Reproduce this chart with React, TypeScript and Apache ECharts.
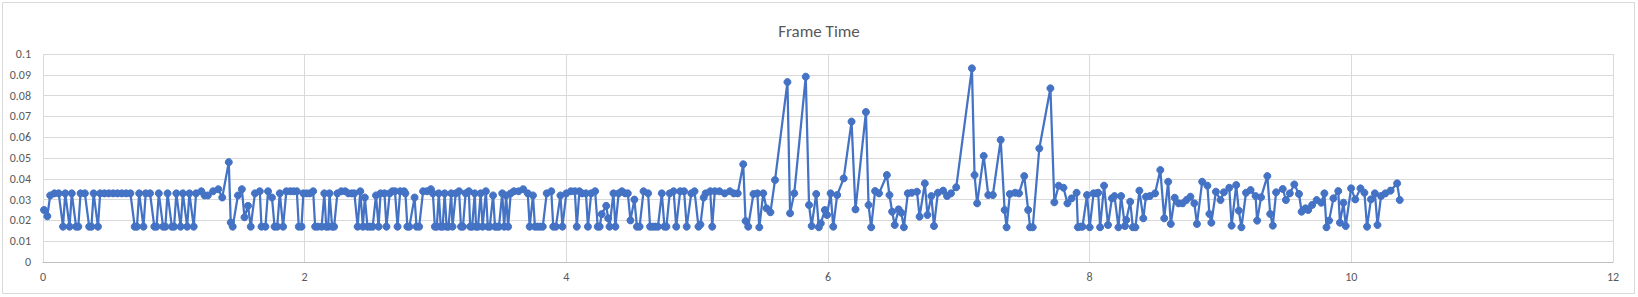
import React, { useEffect, useRef } from "react";
import * as echarts from "echarts";

// [elapsed time (s), frame time (s)], in segments
const segA: number[][] = [
  [0.008, 0.025], [0.033, 0.022], [0.055, 0.032], [0.087, 0.033], [0.12, 0.033], [0.153, 0.017],
  [0.17, 0.033], [0.203, 0.017], [0.22, 0.033], [0.253, 0.017], [0.27, 0.017], [0.287, 0.033],
  [0.32, 0.033], [0.353, 0.017], [0.37, 0.017], [0.387, 0.033], [0.42, 0.017], [0.437, 0.033],
  [0.47, 0.033], [0.503, 0.033], [0.536, 0.033], [0.569, 0.033], [0.602, 0.033], [0.635, 0.033],
  [0.668, 0.033], [0.701, 0.017], [0.718, 0.017], [0.735, 0.033], [0.768, 0.017], [0.785, 0.033],
  [0.818, 0.033], [0.851, 0.017], [0.868, 0.017],
];
const segB: number[][] = [
  [0.885, 0.033], [0.918, 0.017], [0.935, 0.017], [0.952, 0.033], [0.985, 0.017], [1.002, 0.017],
  [1.019, 0.033], [1.052, 0.017], [1.069, 0.033], [1.102, 0.017], [1.119, 0.033], [1.152, 0.017],
  [1.17, 0.033], [1.21, 0.034], [1.235, 0.032], [1.26, 0.032], [1.30, 0.034], [1.34, 0.035],
  [1.37, 0.031], [1.42, 0.048], [1.435, 0.019], [1.45, 0.017], [1.49, 0.032], [1.52, 0.035],
  [1.54, 0.0215], [1.567, 0.027], [1.588, 0.017], [1.62, 0.033], [1.657, 0.034], [1.67, 0.017],
  [1.70, 0.017], [1.72, 0.034], [1.75, 0.031], [1.77, 0.017],
];
const segC: number[][] = [
  [1.79, 0.017], [1.81, 0.033], [1.835, 0.017], [1.86, 0.034], [1.89, 0.034], [1.915, 0.034],
  [1.94, 0.034], [1.955, 0.017], [1.976, 0.017], [1.99, 0.033], [2.015, 0.033], [2.04, 0.033],
  [2.065, 0.034], [2.08, 0.017], [2.10, 0.017], [2.13, 0.017], [2.15, 0.033], [2.165, 0.017],
  [2.18, 0.017], [2.19, 0.033], [2.21, 0.017], [2.225, 0.017], [2.25, 0.033], [2.28, 0.034],
  [2.31, 0.034], [2.335, 0.033], [2.36, 0.033], [2.38, 0.033], [2.405, 0.017], [2.425, 0.034],
  [2.445, 0.017], [2.46, 0.031], [2.48, 0.017], [2.50, 0.017], [2.52, 0.017], [2.545, 0.032],
  [2.565, 0.017], [2.58, 0.033], [2.61, 0.033], [2.625, 0.017],
];
const segD: number[][] = [
  [2.65, 0.033], [2.67, 0.034], [2.69, 0.034], [2.71, 0.017], [2.73, 0.034], [2.76, 0.034],
  [2.77, 0.033], [2.785, 0.017], [2.80, 0.017], [2.84, 0.031], [2.855, 0.017], [2.875, 0.017],
  [2.905, 0.034], [2.935, 0.034], [2.965, 0.035], [2.98, 0.033], [2.995, 0.017], [3.01, 0.017],
  [3.025, 0.033], [3.04, 0.017], [3.055, 0.017], [3.07, 0.033], [3.085, 0.017], [3.10, 0.017],
  [3.12, 0.033], [3.13, 0.017], [3.155, 0.033], [3.18, 0.034], [3.195, 0.017], [3.21, 0.017],
  [3.23, 0.033], [3.255, 0.034], [3.265, 0.017], [3.28, 0.017], [3.30, 0.033], [3.31, 0.017],
  [3.325, 0.017], [3.345, 0.033], [3.36, 0.017], [3.385, 0.034], [3.40, 0.017], [3.415, 0.017],
  [3.44, 0.032], [3.455, 0.017], [3.47, 0.017], [3.485, 0.017], [3.51, 0.033], [3.525, 0.017],
];
const segE: number[][] = [
  [3.54, 0.032], [3.555, 0.017], [3.575, 0.033], [3.60, 0.034], [3.635, 0.034], [3.67, 0.035],
  [3.705, 0.033], [3.72, 0.017], [3.745, 0.032], [3.76, 0.017], [3.78, 0.017], [3.80, 0.017],
  [3.82, 0.017], [3.85, 0.033], [3.885, 0.034], [3.90, 0.017], [3.92, 0.017], [3.955, 0.032],
  [3.97, 0.017], [4.00, 0.033], [4.035, 0.034], [4.065, 0.034], [4.08, 0.017], [4.10, 0.034],
  [4.12, 0.033], [4.15, 0.033], [4.165, 0.017], [4.19, 0.033], [4.22, 0.034], [4.24, 0.017],
  [4.255, 0.017], [4.27, 0.023], [4.305, 0.027], [4.32, 0.021], [4.33, 0.017], [4.36, 0.033],
  [4.375, 0.017],
];
const segF: number[][] = [
  [4.40, 0.033], [4.425, 0.034], [4.45, 0.033], [4.47, 0.033], [4.49, 0.020], [4.52, 0.030],
  [4.54, 0.017], [4.56, 0.017], [4.59, 0.034], [4.625, 0.033], [4.64, 0.017], [4.66, 0.017],
  [4.68, 0.017], [4.70, 0.017], [4.73, 0.033], [4.75, 0.017], [4.765, 0.017], [4.79, 0.033],
  [4.82, 0.034], [4.84, 0.017], [4.87, 0.034], [4.90, 0.034], [4.92, 0.017], [4.955, 0.033],
  [4.98, 0.034], [5.01, 0.017], [5.025, 0.018], [5.05, 0.031], [5.065, 0.033], [5.10, 0.034],
  [5.115, 0.017], [5.135, 0.034], [5.17, 0.034], [5.21, 0.033], [5.25, 0.034], [5.28, 0.033],
];
const segG: number[][] = [
  [5.31, 0.033], [5.352, 0.047], [5.37, 0.0197], [5.39, 0.017], [5.43, 0.0327], [5.46, 0.033],
  [5.475, 0.0167], [5.505, 0.033], [5.53, 0.0258], [5.56, 0.0239], [5.595, 0.0394], [5.69, 0.0865],
  [5.71, 0.0234], [5.742, 0.033], [5.83, 0.0891], [5.855, 0.0274], [5.875, 0.0173], [5.91, 0.0327],
  [5.93, 0.0167], [5.945, 0.0186], [5.976, 0.025], [5.993, 0.0226], [6.02, 0.033], [6.04, 0.017],
  [6.07, 0.0322], [6.12, 0.0402], [6.18, 0.0675],
];
const segH: number[][] = [
  [6.21, 0.0253], [6.29, 0.0721], [6.31, 0.0274], [6.33, 0.0167], [6.36, 0.0341], [6.39, 0.033],
  [6.45, 0.0418], [6.47, 0.0322], [6.49, 0.0242], [6.51, 0.0178], [6.54, 0.0253], [6.56, 0.0237],
  [6.58, 0.0167], [6.61, 0.033], [6.64, 0.0333], [6.68, 0.0338], [6.70, 0.0218], [6.74, 0.0378],
  [6.76, 0.0226], [6.79, 0.0317], [6.81, 0.0173], [6.84, 0.0333], [6.88, 0.0343], [6.91, 0.0317],
  [6.94, 0.033], [6.98, 0.0359], [7.10, 0.0931],
];
const segI: number[][] = [
  [7.12, 0.0418], [7.14, 0.0282], [7.19, 0.051], [7.225, 0.0322], [7.26, 0.0322], [7.32, 0.0587],
  [7.35, 0.025], [7.365, 0.0167], [7.39, 0.0327], [7.43, 0.0333], [7.46, 0.033], [7.50, 0.0413],
  [7.53, 0.025], [7.545, 0.0167], [7.565, 0.0167], [7.615, 0.0546], [7.70, 0.0835], [7.73, 0.0287],
  [7.763, 0.0367], [7.80, 0.0357], [7.83, 0.0282], [7.862, 0.0306], [7.90, 0.0333], [7.91, 0.0167],
  [7.93, 0.017], [7.945, 0.017],
];
const segJ: number[][] = [
  [7.98, 0.0322], [8.00, 0.0167], [8.03, 0.033], [8.05, 0.033], [8.065, 0.0333], [8.08, 0.0167],
  [8.11, 0.0367], [8.14, 0.0178], [8.17, 0.0306], [8.19, 0.0317], [8.22, 0.0167], [8.24, 0.0317],
  [8.27, 0.0173], [8.28, 0.0202], [8.31, 0.029], [8.33, 0.0167], [8.35, 0.0167], [8.38, 0.0343],
  [8.41, 0.021], [8.43, 0.0314], [8.46, 0.0317], [8.50, 0.033], [8.54, 0.0442], [8.57, 0.021],
  [8.60, 0.0386], [8.62, 0.0183], [8.65, 0.0309], [8.68, 0.0282], [8.71, 0.0282], [8.74, 0.0298],
  [8.77, 0.0314], [8.80, 0.0282], [8.82, 0.0183],
];
const segK: number[][] = [
  [8.86, 0.0386], [8.90, 0.0367], [8.915, 0.0231], [8.93, 0.0189], [8.965, 0.0338], [9.00, 0.0298],
  [9.026, 0.0335], [9.067, 0.0357], [9.085, 0.0175], [9.12, 0.037], [9.14, 0.0247], [9.16, 0.0167],
  [9.195, 0.0333], [9.23, 0.0346], [9.268, 0.0317], [9.28, 0.0199], [9.31, 0.0311], [9.358, 0.0413],
  [9.38, 0.0231], [9.40, 0.0175], [9.425, 0.0335], [9.476, 0.0351], [9.50, 0.0298], [9.53, 0.033],
  [9.564, 0.0373], [9.60, 0.0327], [9.62, 0.0242], [9.65, 0.0258], [9.67, 0.025],
];
const segL: number[][] = [
  [9.70, 0.0274], [9.735, 0.0298], [9.77, 0.0285], [9.794, 0.033], [9.81, 0.0167], [9.83, 0.0199],
  [9.863, 0.0306], [9.90, 0.0341], [9.913, 0.0189], [9.94, 0.0285], [9.957, 0.0173], [9.998, 0.0354],
  [10.03, 0.0301], [10.07, 0.0354], [10.10, 0.0333], [10.12, 0.017], [10.15, 0.0301], [10.18, 0.033],
  [10.20, 0.0178], [10.227, 0.0317], [10.26, 0.033], [10.30, 0.0343], [10.35, 0.0378], [10.37, 0.0298],
];

const seriesName = "Frame Time";
const xTicks = { min: 0, max: 12, interval: 2 };
const yTicks = { min: 0, max: 0.1, interval: 0.01 };

const frameData = [
  ...segA, ...segB, ...segC, ...segD, ...segE, ...segF,
  ...segG, ...segH, ...segI, ...segJ, ...segK, ...segL,
];

const FONT = 'Calibri, Carlito, "Liberation Sans", Arial, sans-serif';

export default function App() {
  const ref = useRef<HTMLDivElement>(null);
  useEffect(() => {
    if (!ref.current) return;
    const chart = echarts.init(ref.current, null, { renderer: "svg" });
    chart.setOption({
      animation: false,
      backgroundColor: "#ffffff",
      title: {
        text: seriesName,
        left: "center",
        top: 18,
        textStyle: { fontFamily: FONT, fontSize: 17, fontWeight: "normal", color: "#595959" },
      },
      graphic: [
        {
          type: "rect",
          shape: { x: 2.5, y: 2.5, width: 1632, height: 291 },
          style: { fill: "none", stroke: "#d9d9d9", lineWidth: 1 },
          silent: true,
        },
      ],
      grid: { left: 43, top: 54, width: 1570, height: 208, containLabel: false },
      xAxis: {
        type: "value",
        min: xTicks.min,
        max: xTicks.max,
        interval: xTicks.interval,
        axisLine: { show: true, onZero: false, lineStyle: { color: "#bfbfbf", width: 1 } },
        axisTick: { show: false },
        splitLine: { show: true, lineStyle: { color: "#d9d9d9", width: 1 } },
        axisLabel: { fontFamily: FONT, fontSize: 12, color: "#595959", margin: 9 },
      },
      yAxis: {
        type: "value",
        min: yTicks.min,
        max: yTicks.max,
        interval: yTicks.interval,
        axisLine: { show: false },
        axisTick: { show: false },
        splitLine: { show: true, lineStyle: { color: "#d9d9d9", width: 1 } },
        axisLabel: {
          fontFamily: FONT,
          fontSize: 12,
          color: "#595959",
          margin: 12,
          formatter: (v: number) => String(parseFloat(v.toFixed(2))),
        },
      },
      series: [
        {
          name: seriesName,
          type: "line",
          data: frameData,
          symbol: "circle",
          symbolSize: 7,
          showSymbol: true,
          showAllSymbol: true,
          lineStyle: { color: "#4472C4", width: 2.25 },
          itemStyle: { color: "#4472C4", borderColor: "#4472C4", borderWidth: 1 },
          emphasis: { disabled: true },
        },
      ],
    });
    return () => chart.dispose();
  }, []);
  return (
    <div
      ref={ref}
      style={{ position: "fixed", left: 0, top: 0, width: 1638, height: 297 }}
    />
  );
}
